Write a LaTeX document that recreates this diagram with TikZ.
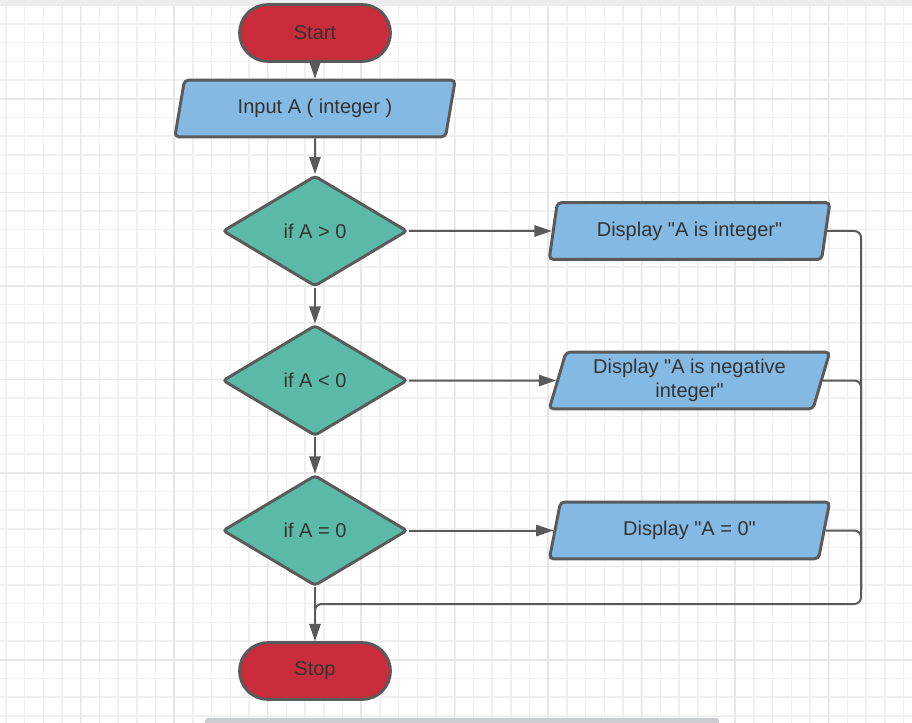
\documentclass[tikz,border=0pt]{standalone}
\usepackage{fontspec}
\setmainfont{Liberation Sans}[Ligatures=TeXOff]
\usetikzlibrary{shapes.geometric,arrows.meta}

\definecolor{termred}{HTML}{C92C3A}
\definecolor{iofill}{HTML}{83B9E3}
\definecolor{decfill}{HTML}{5BBAA7}
\definecolor{edgegray}{HTML}{5A5A5A}
\definecolor{txtgray}{HTML}{333333}
\definecolor{gridminor}{HTML}{F0F0F0}
\definecolor{gridmajor}{HTML}{E7E7E7}
\definecolor{topband}{HTML}{ECEDEF}
\definecolor{scrollbar}{HTML}{CACDD2}

\tikzset{
  base/.style={draw=edgegray, line width=2.2pt, text=txtgray,
    font=\fontsize{15}{18}\selectfont, inner sep=0pt, align=center},
  terminal/.style={base, fill=termred, rounded corners=21pt,
    minimum width=113pt, minimum height=42.5pt},
  iobox/.style={base, fill=iofill, trapezium, trapezium stretches=true,
    trapezium left angle=73, trapezium right angle=107, rounded corners=3pt,
    minimum width=210.5pt, minimum height=42.5pt},
  decision/.style={base, fill=decfill, diamond, aspect=1.67, rounded corners=2.5pt,
    minimum width=138.5pt, minimum height=83pt},
  conn/.style={draw=edgegray, line width=1.5pt, rounded corners=5pt},
  arrowconn/.style={conn, -{Triangle[length=13pt,width=8.5pt]}}
}

\begin{document}
\begin{tikzpicture}[x=0.75pt,y=-0.75pt]
  \useasboundingbox (0,0) rectangle (912,723);
  \fill[white] (0,0) rectangle (912,723);

  % background grid: minor and major lines
  \foreach \i in {0,...,48}
    \draw[gridminor, line width=1.1pt] ({6+18.7*\i},6) -- ({6+18.7*\i},723);
  \foreach \i in {0,...,38}
    \draw[gridminor, line width=1.1pt] (0,{5.3+18.7*\i}) -- (912,{5.3+18.7*\i});
  \foreach \i in {0,...,8}
    \draw[gridmajor, line width=1.1pt] ({80.7+93.5*\i},6) -- ({80.7+93.5*\i},723);
  \foreach \i in {0,...,6}
    \draw[gridmajor, line width=1.1pt] (0,{99+93.5*\i}) -- (912,{99+93.5*\i});

  % top band and scroll bar
  \fill[topband] (0,0) rectangle (912,6);
  \fill[scrollbar, rounded corners=2pt] (205,718) rectangle (719,728);

  % flowchart nodes
  \node[terminal] (start) at (315,33) {Start};
  \node[iobox] (input) at (315,108.5) {Input A ( integer )};
  \node[decision] (d1) at (315,231) {if A > 0};
  \node[decision] (d2) at (315,380.5) {if A < 0};
  \node[decision] (d3) at (315,530.5) {if A = 0};
  \node[terminal] (stop) at (315,671) {Stop};

  \node[iobox] (disp1) at (689.5,231) {Display "A is integer"};
  \node[iobox] (disp2) at (689.5,380.5) {Display "A is negative\\integer"};
  \node[iobox] (disp3) at (689.5,530.5) {Display "A = 0"};

  % collector rail on the right
  \coordinate (railbot) at (861,604);
  \coordinate (railjoin) at (861,590);
  \coordinate (merge) at (315,622);

  % main flow
  \draw[arrowconn] (start) -- (input);
  \draw[arrowconn] (input) -- (d1);
  \draw[arrowconn] (d1) -- (d2);
  \draw[arrowconn] (d2) -- (d3);
  \draw[arrowconn] (d3) -- (stop);

  % branches to the outputs
  \draw[arrowconn] (d1.east) -- (disp1.west);
  \draw[arrowconn] (d2.east) -- (disp2.west);
  \draw[arrowconn] (d3.east) -- (disp3.west);

  % outputs return to Stop
  \draw[conn] (disp1.east) -| (railbot) -| (merge);
  \draw[conn] (disp2.east) -| (railjoin);
  \draw[conn] (disp3.east) -| (railjoin);
\end{tikzpicture}
\end{document}
